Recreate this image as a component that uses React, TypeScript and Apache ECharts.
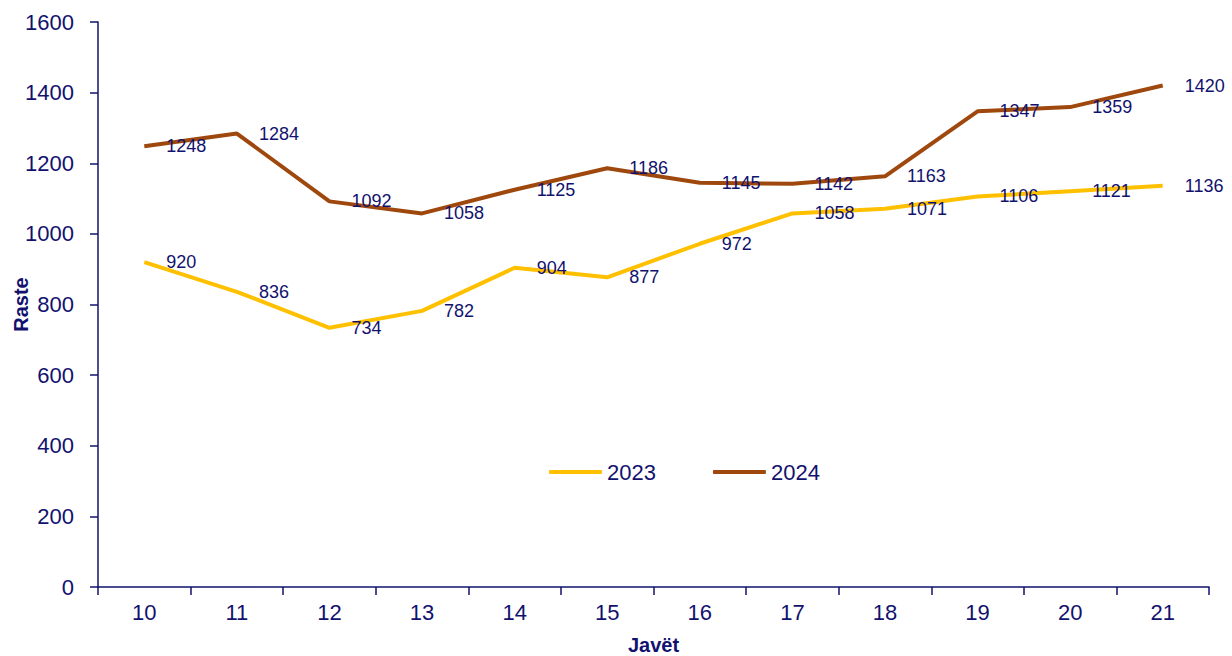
import React, { useEffect, useRef } from "react";
import * as echarts from "echarts";

const weeks = ["10", "11", "12", "13", "14", "15", "16", "17", "18", "19", "20", "21"];
const cases2023 = [920, 836, 734, 782, 904, 877, 972, 1058, 1071, 1106, 1121, 1136];
const cases2024 = [1248, 1284, 1092, 1058, 1125, 1186, 1145, 1142, 1163, 1347, 1359, 1420];

const NAVY = "#12126e";
const FONT = "Liberation Sans, Arial, sans-serif";

export default function App() {
  const ref = useRef<HTMLDivElement>(null);
  useEffect(() => {
    if (!ref.current) return;
    const chart = echarts.init(ref.current, undefined, { renderer: "svg" });
    const labelCfg = {
      show: true,
      position: "right",
      distance: 22,
      color: NAVY,
      fontSize: 18,
      fontFamily: FONT,
    };
    chart.setOption({
      animation: false,
      textStyle: { fontFamily: FONT, color: NAVY },
      grid: { left: 98, right: 23, top: 22, bottom: 69, containLabel: false, outerBoundsMode: "none" },
      legend: {
        left: 544,
        top: 456,
        itemWidth: 53,
        itemHeight: 4,
        itemGap: 57,
        icon: "roundRect",
        textStyle: { color: NAVY, fontSize: 22, fontFamily: FONT },
        data: ["2023", "2024"],
      },
      xAxis: {
        type: "category",
        data: weeks,
        boundaryGap: true,
        name: "Javët",
        nameLocation: "middle",
        nameGap: 48,
        nameMoveOverlap: false,
        nameTextStyle: { color: NAVY, fontSize: 20, fontWeight: "bold", fontFamily: FONT },
        axisLine: { lineStyle: { color: NAVY, width: 1.5 } },
        axisTick: { show: true, length: 8, lineStyle: { color: NAVY, width: 1.5 } },
        axisLabel: { color: NAVY, fontSize: 22, margin: 14, fontFamily: FONT },
        splitLine: { show: false },
      },
      yAxis: {
        type: "value",
        min: 0,
        max: 1600,
        interval: 200,
        name: "Raste",
        nameLocation: "middle",
        nameGap: 67,
        nameMoveOverlap: false,
        nameRotate: 90,
        nameTextStyle: { color: NAVY, fontSize: 20, fontWeight: "bold", fontFamily: FONT },
        axisLine: { show: true, lineStyle: { color: NAVY, width: 1.5 } },
        axisTick: { show: true, length: 8, lineStyle: { color: NAVY, width: 1.5 } },
        axisLabel: { color: NAVY, fontSize: 22, margin: 24, fontFamily: FONT, formatter: (v: number) => String(v) },
        splitLine: { show: false },
      },
      series: [
        {
          name: "2023",
          type: "line",
          data: cases2023,
          symbol: "circle",
          symbolSize: 0.01,
          showSymbol: true,
          itemStyle: { color: "#FFC000" },
          lineStyle: { color: "#FFC000", width: 4 },
          label: labelCfg,
        },
        {
          name: "2024",
          type: "line",
          data: cases2024,
          symbol: "circle",
          symbolSize: 0.01,
          showSymbol: true,
          itemStyle: { color: "#9E480E" },
          lineStyle: { color: "#9E480E", width: 4 },
          label: labelCfg,
        },
      ],
    });
    return () => chart.dispose();
  }, []);
  return <div ref={ref} style={{ width: 1232, height: 656, position: "absolute", left: 0, top: 0 }} />;
}
